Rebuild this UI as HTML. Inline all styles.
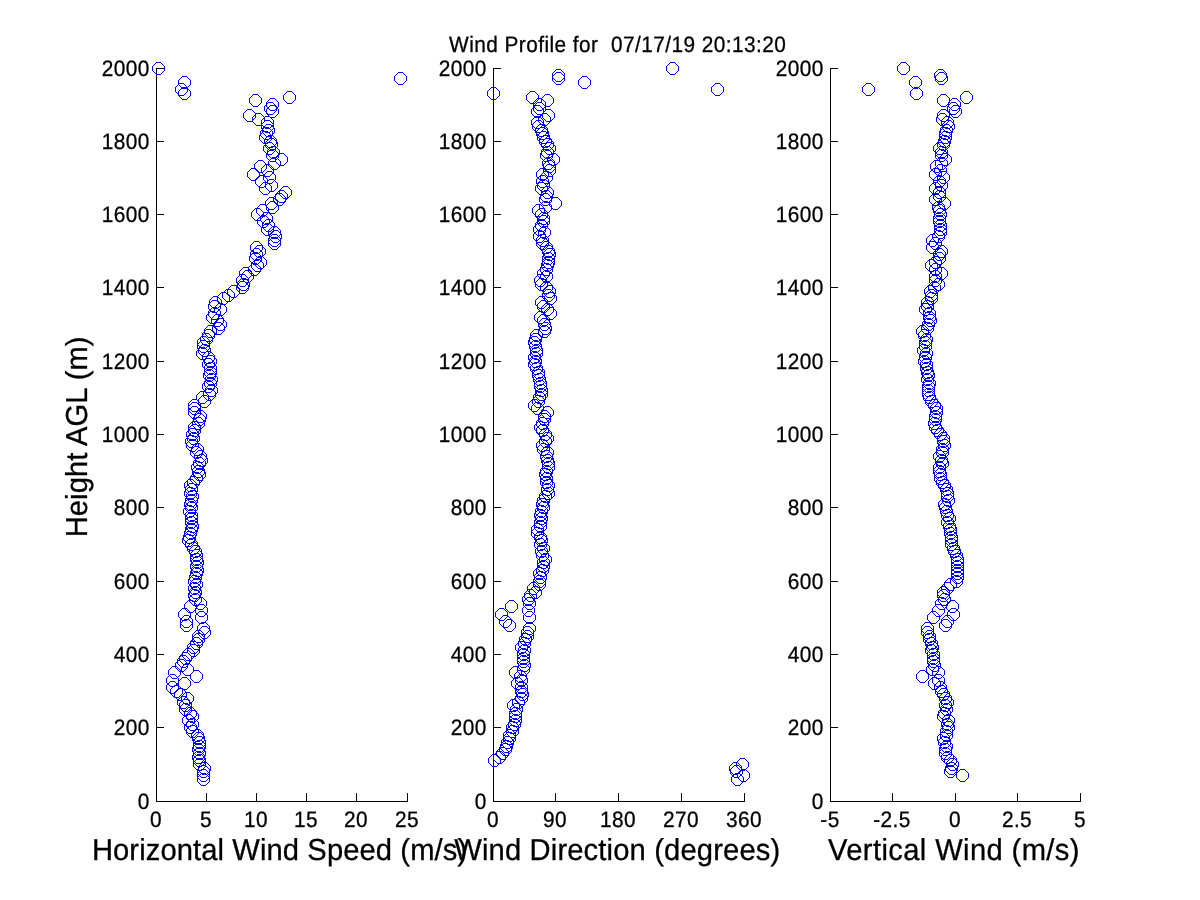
<!DOCTYPE html>
<html lang="en"><head><meta charset="utf-8"><title>Wind Profile</title>
<style>
html,body{margin:0;padding:0;background:#fff;}
body{width:1200px;height:900px;overflow:hidden;}
svg{display:block;}
text{font-family:"Liberation Sans",Arial,Helvetica,sans-serif;fill:#000;stroke:#000;stroke-width:0.30px;text-rendering:geometricPrecision;white-space:pre;}
.t{font-size:22.30px;letter-spacing:0.45px;}
.l{font-size:30.30px;letter-spacing:0.00px;}
</style></head>
<body>
<svg width="1200" height="900" viewBox="0 0 1200 900" role="img" aria-label="Wind Profile">
<rect width="1200" height="900" fill="#fff"/>
<defs><path id="m" d="M4 0h5v1h-5zM4 12h5v1h-5zM0 4h1v5h-1zM12 4h1v5h-1zM3 1h1v1h-1zM2 2h1v1h-1zM1 3h1v1h-1zM9 1h1v1h-1zM10 2h1v1h-1zM11 3h1v1h-1zM1 9h1v1h-1zM2 10h1v1h-1zM3 11h1v1h-1zM11 9h1v1h-1zM10 10h1v1h-1zM9 11h1v1h-1z" fill="#00f" shape-rendering="crispEdges"/></defs>
<g shape-rendering="crispEdges" fill="#000">
<rect x="156" y="68" width="1" height="734"/><rect x="156" y="801" width="252" height="1"/>
<rect x="156" y="801" width="8" height="1"/><rect x="156" y="727" width="8" height="1"/><rect x="156" y="654" width="8" height="1"/><rect x="156" y="581" width="8" height="1"/><rect x="156" y="507" width="8" height="1"/><rect x="156" y="434" width="8" height="1"/><rect x="156" y="361" width="8" height="1"/><rect x="156" y="287" width="8" height="1"/><rect x="156" y="214" width="8" height="1"/><rect x="156" y="141" width="8" height="1"/><rect x="156" y="68" width="8" height="1"/>
<rect x="156" y="793" width="1" height="9"/><rect x="206" y="793" width="1" height="9"/><rect x="256" y="793" width="1" height="9"/><rect x="306" y="793" width="1" height="9"/><rect x="356" y="793" width="1" height="9"/><rect x="407" y="793" width="1" height="9"/>
</g>
<g>
<text class="t" text-anchor="end" transform="translate(149.30 809.00) scale(0.9340 1)" x="0.450" y="0" xml:space="preserve">0</text><text class="t" text-anchor="end" transform="translate(149.30 735.00) scale(0.9340 1)" x="0.450" y="0" xml:space="preserve">200</text><text class="t" text-anchor="end" transform="translate(149.30 662.00) scale(0.9340 1)" x="0.450" y="0" xml:space="preserve">400</text><text class="t" text-anchor="end" transform="translate(149.30 589.00) scale(0.9340 1)" x="0.450" y="0" xml:space="preserve">600</text><text class="t" text-anchor="end" transform="translate(149.30 515.00) scale(0.9340 1)" x="0.450" y="0" xml:space="preserve">800</text><text class="t" text-anchor="end" transform="translate(149.30 442.00) scale(0.9340 1)" x="0.450" y="0" xml:space="preserve">1000</text><text class="t" text-anchor="end" transform="translate(149.30 369.00) scale(0.9340 1)" x="0.450" y="0" xml:space="preserve">1200</text><text class="t" text-anchor="end" transform="translate(149.30 295.00) scale(0.9340 1)" x="0.450" y="0" xml:space="preserve">1400</text><text class="t" text-anchor="end" transform="translate(149.30 222.00) scale(0.9340 1)" x="0.450" y="0" xml:space="preserve">1600</text><text class="t" text-anchor="end" transform="translate(149.30 149.00) scale(0.9340 1)" x="0.450" y="0" xml:space="preserve">1800</text><text class="t" text-anchor="end" transform="translate(149.30 76.00) scale(0.9340 1)" x="0.450" y="0" xml:space="preserve">2000</text>
</g>
<g>
<text class="t" text-anchor="middle" transform="translate(155.80 827.00) scale(0.9340 1)" x="0.225" y="0" xml:space="preserve">0</text><text class="t" text-anchor="middle" transform="translate(205.80 827.00) scale(0.9340 1)" x="0.225" y="0" xml:space="preserve">5</text><text class="t" text-anchor="middle" transform="translate(255.80 827.00) scale(0.9340 1)" x="0.225" y="0" xml:space="preserve">10</text><text class="t" text-anchor="middle" transform="translate(305.80 827.00) scale(0.9340 1)" x="0.225" y="0" xml:space="preserve">15</text><text class="t" text-anchor="middle" transform="translate(355.80 827.00) scale(0.9340 1)" x="0.225" y="0" xml:space="preserve">20</text><text class="t" text-anchor="middle" transform="translate(406.80 827.00) scale(0.9340 1)" x="0.225" y="0" xml:space="preserve">25</text>
</g>
<text class="l" text-anchor="middle" transform="translate(279.50 860.00) scale(0.9627 1)" x="0.048" y="0" xml:space="preserve" style="letter-spacing:0.096px">Horizontal Wind Speed (m/s)</text>
<g>
<use href="#m" x="152" y="62"/><use href="#m" x="394" y="72"/><use href="#m" x="178" y="76"/><use href="#m" x="175" y="83"/><use href="#m" x="178" y="87"/><use href="#m" x="283" y="91"/><use href="#m" x="249" y="94"/><use href="#m" x="266" y="98"/><use href="#m" x="264" y="102"/><use href="#m" x="266" y="105"/><use href="#m" x="243" y="109"/><use href="#m" x="252" y="113"/><use href="#m" x="261" y="116"/><use href="#m" x="261" y="120"/><use href="#m" x="262" y="124"/><use href="#m" x="260" y="127"/><use href="#m" x="259" y="131"/><use href="#m" x="264" y="135"/><use href="#m" x="265" y="138"/><use href="#m" x="263" y="142"/><use href="#m" x="267" y="146"/><use href="#m" x="266" y="149"/><use href="#m" x="275" y="153"/><use href="#m" x="268" y="157"/><use href="#m" x="254" y="160"/><use href="#m" x="261" y="164"/><use href="#m" x="247" y="168"/><use href="#m" x="263" y="171"/><use href="#m" x="255" y="175"/><use href="#m" x="265" y="179"/><use href="#m" x="259" y="182"/><use href="#m" x="279" y="186"/><use href="#m" x="275" y="190"/><use href="#m" x="273" y="193"/><use href="#m" x="265" y="197"/><use href="#m" x="266" y="201"/><use href="#m" x="256" y="204"/><use href="#m" x="251" y="208"/><use href="#m" x="260" y="212"/><use href="#m" x="257" y="215"/><use href="#m" x="262" y="219"/><use href="#m" x="261" y="223"/><use href="#m" x="268" y="226"/><use href="#m" x="269" y="230"/><use href="#m" x="268" y="234"/><use href="#m" x="268" y="237"/><use href="#m" x="250" y="241"/><use href="#m" x="253" y="245"/><use href="#m" x="250" y="248"/><use href="#m" x="249" y="252"/><use href="#m" x="254" y="256"/><use href="#m" x="251" y="259"/><use href="#m" x="248" y="263"/><use href="#m" x="239" y="267"/><use href="#m" x="241" y="270"/><use href="#m" x="236" y="274"/><use href="#m" x="237" y="278"/><use href="#m" x="236" y="281"/><use href="#m" x="227" y="285"/><use href="#m" x="222" y="289"/><use href="#m" x="217" y="292"/><use href="#m" x="209" y="296"/><use href="#m" x="208" y="300"/><use href="#m" x="214" y="303"/><use href="#m" x="208" y="307"/><use href="#m" x="206" y="311"/><use href="#m" x="211" y="314"/><use href="#m" x="214" y="318"/><use href="#m" x="212" y="322"/><use href="#m" x="204" y="325"/><use href="#m" x="202" y="329"/><use href="#m" x="200" y="333"/><use href="#m" x="197" y="336"/><use href="#m" x="197" y="340"/><use href="#m" x="198" y="344"/><use href="#m" x="196" y="347"/><use href="#m" x="202" y="351"/><use href="#m" x="204" y="355"/><use href="#m" x="202" y="358"/><use href="#m" x="204" y="362"/><use href="#m" x="204" y="366"/><use href="#m" x="203" y="369"/><use href="#m" x="205" y="373"/><use href="#m" x="204" y="377"/><use href="#m" x="202" y="380"/><use href="#m" x="205" y="384"/><use href="#m" x="203" y="388"/><use href="#m" x="196" y="391"/><use href="#m" x="198" y="395"/><use href="#m" x="188" y="399"/><use href="#m" x="188" y="402"/><use href="#m" x="188" y="406"/><use href="#m" x="194" y="410"/><use href="#m" x="193" y="413"/><use href="#m" x="192" y="417"/><use href="#m" x="188" y="421"/><use href="#m" x="188" y="424"/><use href="#m" x="186" y="428"/><use href="#m" x="187" y="432"/><use href="#m" x="185" y="435"/><use href="#m" x="186" y="439"/><use href="#m" x="191" y="443"/><use href="#m" x="190" y="446"/><use href="#m" x="194" y="450"/><use href="#m" x="195" y="454"/><use href="#m" x="193" y="457"/><use href="#m" x="191" y="461"/><use href="#m" x="192" y="465"/><use href="#m" x="193" y="468"/><use href="#m" x="190" y="472"/><use href="#m" x="187" y="476"/><use href="#m" x="184" y="479"/><use href="#m" x="185" y="483"/><use href="#m" x="184" y="487"/><use href="#m" x="186" y="490"/><use href="#m" x="185" y="494"/><use href="#m" x="184" y="498"/><use href="#m" x="185" y="501"/><use href="#m" x="183" y="505"/><use href="#m" x="185" y="509"/><use href="#m" x="185" y="512"/><use href="#m" x="185" y="516"/><use href="#m" x="186" y="520"/><use href="#m" x="185" y="523"/><use href="#m" x="184" y="527"/><use href="#m" x="183" y="531"/><use href="#m" x="182" y="534"/><use href="#m" x="185" y="538"/><use href="#m" x="187" y="542"/><use href="#m" x="189" y="545"/><use href="#m" x="190" y="549"/><use href="#m" x="190" y="553"/><use href="#m" x="191" y="556"/><use href="#m" x="190" y="560"/><use href="#m" x="191" y="564"/><use href="#m" x="190" y="567"/><use href="#m" x="189" y="571"/><use href="#m" x="188" y="575"/><use href="#m" x="190" y="578"/><use href="#m" x="188" y="582"/><use href="#m" x="189" y="586"/><use href="#m" x="188" y="589"/><use href="#m" x="189" y="593"/><use href="#m" x="194" y="597"/><use href="#m" x="184" y="600"/><use href="#m" x="195" y="604"/><use href="#m" x="178" y="608"/><use href="#m" x="195" y="611"/><use href="#m" x="180" y="615"/><use href="#m" x="180" y="619"/><use href="#m" x="197" y="622"/><use href="#m" x="198" y="626"/><use href="#m" x="192" y="630"/><use href="#m" x="192" y="633"/><use href="#m" x="190" y="637"/><use href="#m" x="187" y="641"/><use href="#m" x="187" y="644"/><use href="#m" x="182" y="648"/><use href="#m" x="179" y="652"/><use href="#m" x="177" y="655"/><use href="#m" x="175" y="659"/><use href="#m" x="181" y="663"/><use href="#m" x="168" y="666"/><use href="#m" x="190" y="670"/><use href="#m" x="166" y="674"/><use href="#m" x="178" y="677"/><use href="#m" x="166" y="681"/><use href="#m" x="170" y="685"/><use href="#m" x="174" y="688"/><use href="#m" x="181" y="692"/><use href="#m" x="177" y="696"/><use href="#m" x="179" y="699"/><use href="#m" x="179" y="703"/><use href="#m" x="184" y="707"/><use href="#m" x="186" y="710"/><use href="#m" x="182" y="714"/><use href="#m" x="186" y="718"/><use href="#m" x="184" y="721"/><use href="#m" x="186" y="725"/><use href="#m" x="191" y="729"/><use href="#m" x="192" y="732"/><use href="#m" x="193" y="736"/><use href="#m" x="193" y="740"/><use href="#m" x="192" y="743"/><use href="#m" x="193" y="747"/><use href="#m" x="192" y="751"/><use href="#m" x="193" y="754"/><use href="#m" x="193" y="758"/><use href="#m" x="198" y="762"/><use href="#m" x="197" y="765"/><use href="#m" x="197" y="769"/><use href="#m" x="197" y="773"/>
</g>
<g shape-rendering="crispEdges" fill="#000">
<rect x="493" y="68" width="1" height="734"/><rect x="493" y="801" width="252" height="1"/>
<rect x="493" y="801" width="8" height="1"/><rect x="493" y="727" width="8" height="1"/><rect x="493" y="654" width="8" height="1"/><rect x="493" y="581" width="8" height="1"/><rect x="493" y="507" width="8" height="1"/><rect x="493" y="434" width="8" height="1"/><rect x="493" y="361" width="8" height="1"/><rect x="493" y="287" width="8" height="1"/><rect x="493" y="214" width="8" height="1"/><rect x="493" y="141" width="8" height="1"/><rect x="493" y="68" width="8" height="1"/>
<rect x="493" y="793" width="1" height="9"/><rect x="555" y="793" width="1" height="9"/><rect x="618" y="793" width="1" height="9"/><rect x="681" y="793" width="1" height="9"/><rect x="744" y="793" width="1" height="9"/>
</g>
<g>
<text class="t" text-anchor="end" transform="translate(486.30 809.00) scale(0.9340 1)" x="0.450" y="0" xml:space="preserve">0</text><text class="t" text-anchor="end" transform="translate(486.30 735.00) scale(0.9340 1)" x="0.450" y="0" xml:space="preserve">200</text><text class="t" text-anchor="end" transform="translate(486.30 662.00) scale(0.9340 1)" x="0.450" y="0" xml:space="preserve">400</text><text class="t" text-anchor="end" transform="translate(486.30 589.00) scale(0.9340 1)" x="0.450" y="0" xml:space="preserve">600</text><text class="t" text-anchor="end" transform="translate(486.30 515.00) scale(0.9340 1)" x="0.450" y="0" xml:space="preserve">800</text><text class="t" text-anchor="end" transform="translate(486.30 442.00) scale(0.9340 1)" x="0.450" y="0" xml:space="preserve">1000</text><text class="t" text-anchor="end" transform="translate(486.30 369.00) scale(0.9340 1)" x="0.450" y="0" xml:space="preserve">1200</text><text class="t" text-anchor="end" transform="translate(486.30 295.00) scale(0.9340 1)" x="0.450" y="0" xml:space="preserve">1400</text><text class="t" text-anchor="end" transform="translate(486.30 222.00) scale(0.9340 1)" x="0.450" y="0" xml:space="preserve">1600</text><text class="t" text-anchor="end" transform="translate(486.30 149.00) scale(0.9340 1)" x="0.450" y="0" xml:space="preserve">1800</text><text class="t" text-anchor="end" transform="translate(486.30 76.00) scale(0.9340 1)" x="0.450" y="0" xml:space="preserve">2000</text>
</g>
<g>
<text class="t" text-anchor="middle" transform="translate(492.80 827.00) scale(0.9340 1)" x="0.225" y="0" xml:space="preserve">0</text><text class="t" text-anchor="middle" transform="translate(554.80 827.00) scale(0.9340 1)" x="0.225" y="0" xml:space="preserve">90</text><text class="t" text-anchor="middle" transform="translate(617.80 827.00) scale(0.9340 1)" x="0.225" y="0" xml:space="preserve">180</text><text class="t" text-anchor="middle" transform="translate(680.80 827.00) scale(0.9340 1)" x="0.225" y="0" xml:space="preserve">270</text><text class="t" text-anchor="middle" transform="translate(743.80 827.00) scale(0.9340 1)" x="0.225" y="0" xml:space="preserve">360</text>
</g>
<text class="l" text-anchor="middle" transform="translate(617.25 860.00) scale(0.9627 1)" x="0.077" y="0" xml:space="preserve" style="letter-spacing:0.154px">Wind Direction (degrees)</text>
<g>
<use href="#m" x="666" y="62"/><use href="#m" x="552" y="69"/><use href="#m" x="552" y="72"/><use href="#m" x="578" y="76"/><use href="#m" x="711" y="83"/><use href="#m" x="487" y="87"/><use href="#m" x="526" y="91"/><use href="#m" x="541" y="94"/><use href="#m" x="533" y="98"/><use href="#m" x="533" y="102"/><use href="#m" x="531" y="105"/><use href="#m" x="542" y="109"/><use href="#m" x="538" y="113"/><use href="#m" x="531" y="116"/><use href="#m" x="532" y="120"/><use href="#m" x="535" y="124"/><use href="#m" x="536" y="127"/><use href="#m" x="537" y="131"/><use href="#m" x="539" y="135"/><use href="#m" x="541" y="138"/><use href="#m" x="543" y="142"/><use href="#m" x="541" y="146"/><use href="#m" x="540" y="149"/><use href="#m" x="547" y="153"/><use href="#m" x="542" y="157"/><use href="#m" x="543" y="160"/><use href="#m" x="543" y="164"/><use href="#m" x="536" y="168"/><use href="#m" x="540" y="171"/><use href="#m" x="536" y="175"/><use href="#m" x="537" y="179"/><use href="#m" x="535" y="182"/><use href="#m" x="541" y="186"/><use href="#m" x="540" y="190"/><use href="#m" x="539" y="193"/><use href="#m" x="549" y="197"/><use href="#m" x="539" y="201"/><use href="#m" x="532" y="204"/><use href="#m" x="535" y="208"/><use href="#m" x="537" y="212"/><use href="#m" x="537" y="215"/><use href="#m" x="535" y="219"/><use href="#m" x="533" y="223"/><use href="#m" x="538" y="226"/><use href="#m" x="533" y="230"/><use href="#m" x="536" y="234"/><use href="#m" x="536" y="237"/><use href="#m" x="540" y="241"/><use href="#m" x="542" y="245"/><use href="#m" x="543" y="248"/><use href="#m" x="542" y="252"/><use href="#m" x="542" y="256"/><use href="#m" x="541" y="259"/><use href="#m" x="540" y="263"/><use href="#m" x="537" y="267"/><use href="#m" x="540" y="270"/><use href="#m" x="534" y="274"/><use href="#m" x="535" y="278"/><use href="#m" x="540" y="281"/><use href="#m" x="543" y="285"/><use href="#m" x="542" y="289"/><use href="#m" x="544" y="292"/><use href="#m" x="535" y="296"/><use href="#m" x="537" y="300"/><use href="#m" x="541" y="303"/><use href="#m" x="544" y="307"/><use href="#m" x="534" y="311"/><use href="#m" x="537" y="314"/><use href="#m" x="538" y="318"/><use href="#m" x="539" y="322"/><use href="#m" x="538" y="325"/><use href="#m" x="530" y="329"/><use href="#m" x="529" y="333"/><use href="#m" x="528" y="336"/><use href="#m" x="529" y="340"/><use href="#m" x="530" y="344"/><use href="#m" x="530" y="347"/><use href="#m" x="528" y="351"/><use href="#m" x="529" y="355"/><use href="#m" x="528" y="358"/><use href="#m" x="530" y="362"/><use href="#m" x="532" y="366"/><use href="#m" x="532" y="369"/><use href="#m" x="533" y="373"/><use href="#m" x="534" y="377"/><use href="#m" x="534" y="380"/><use href="#m" x="535" y="384"/><use href="#m" x="535" y="388"/><use href="#m" x="533" y="391"/><use href="#m" x="532" y="395"/><use href="#m" x="528" y="399"/><use href="#m" x="531" y="402"/><use href="#m" x="541" y="406"/><use href="#m" x="538" y="410"/><use href="#m" x="538" y="413"/><use href="#m" x="536" y="417"/><use href="#m" x="534" y="421"/><use href="#m" x="536" y="424"/><use href="#m" x="539" y="428"/><use href="#m" x="541" y="432"/><use href="#m" x="539" y="435"/><use href="#m" x="536" y="439"/><use href="#m" x="537" y="443"/><use href="#m" x="541" y="446"/><use href="#m" x="540" y="450"/><use href="#m" x="541" y="454"/><use href="#m" x="542" y="457"/><use href="#m" x="542" y="461"/><use href="#m" x="540" y="465"/><use href="#m" x="539" y="468"/><use href="#m" x="540" y="472"/><use href="#m" x="540" y="476"/><use href="#m" x="542" y="479"/><use href="#m" x="541" y="483"/><use href="#m" x="542" y="487"/><use href="#m" x="539" y="490"/><use href="#m" x="537" y="494"/><use href="#m" x="536" y="498"/><use href="#m" x="537" y="501"/><use href="#m" x="535" y="505"/><use href="#m" x="534" y="509"/><use href="#m" x="535" y="512"/><use href="#m" x="534" y="516"/><use href="#m" x="534" y="520"/><use href="#m" x="531" y="523"/><use href="#m" x="531" y="527"/><use href="#m" x="534" y="531"/><use href="#m" x="535" y="534"/><use href="#m" x="534" y="538"/><use href="#m" x="537" y="542"/><use href="#m" x="535" y="545"/><use href="#m" x="536" y="549"/><use href="#m" x="539" y="553"/><use href="#m" x="537" y="556"/><use href="#m" x="537" y="560"/><use href="#m" x="536" y="564"/><use href="#m" x="533" y="567"/><use href="#m" x="534" y="571"/><use href="#m" x="533" y="575"/><use href="#m" x="533" y="578"/><use href="#m" x="527" y="582"/><use href="#m" x="529" y="586"/><use href="#m" x="524" y="589"/><use href="#m" x="522" y="593"/><use href="#m" x="523" y="597"/><use href="#m" x="505" y="600"/><use href="#m" x="522" y="604"/><use href="#m" x="495" y="608"/><use href="#m" x="523" y="611"/><use href="#m" x="499" y="615"/><use href="#m" x="503" y="619"/><use href="#m" x="523" y="622"/><use href="#m" x="521" y="626"/><use href="#m" x="521" y="630"/><use href="#m" x="519" y="633"/><use href="#m" x="518" y="637"/><use href="#m" x="515" y="641"/><use href="#m" x="518" y="644"/><use href="#m" x="517" y="648"/><use href="#m" x="517" y="652"/><use href="#m" x="517" y="655"/><use href="#m" x="518" y="659"/><use href="#m" x="517" y="663"/><use href="#m" x="509" y="666"/><use href="#m" x="514" y="670"/><use href="#m" x="515" y="674"/><use href="#m" x="511" y="677"/><use href="#m" x="515" y="681"/><use href="#m" x="515" y="685"/><use href="#m" x="516" y="688"/><use href="#m" x="515" y="692"/><use href="#m" x="512" y="696"/><use href="#m" x="507" y="699"/><use href="#m" x="510" y="703"/><use href="#m" x="509" y="707"/><use href="#m" x="509" y="710"/><use href="#m" x="509" y="714"/><use href="#m" x="508" y="718"/><use href="#m" x="506" y="721"/><use href="#m" x="506" y="725"/><use href="#m" x="503" y="729"/><use href="#m" x="503" y="732"/><use href="#m" x="501" y="736"/><use href="#m" x="500" y="740"/><use href="#m" x="499" y="743"/><use href="#m" x="496" y="747"/><use href="#m" x="493" y="751"/><use href="#m" x="488" y="754"/><use href="#m" x="736" y="758"/><use href="#m" x="729" y="762"/><use href="#m" x="730" y="765"/><use href="#m" x="737" y="769"/><use href="#m" x="731" y="773"/>
</g>
<g shape-rendering="crispEdges" fill="#000">
<rect x="830" y="68" width="1" height="734"/><rect x="830" y="801" width="251" height="1"/>
<rect x="830" y="801" width="8" height="1"/><rect x="830" y="727" width="8" height="1"/><rect x="830" y="654" width="8" height="1"/><rect x="830" y="581" width="8" height="1"/><rect x="830" y="507" width="8" height="1"/><rect x="830" y="434" width="8" height="1"/><rect x="830" y="361" width="8" height="1"/><rect x="830" y="287" width="8" height="1"/><rect x="830" y="214" width="8" height="1"/><rect x="830" y="141" width="8" height="1"/><rect x="830" y="68" width="8" height="1"/>
<rect x="830" y="793" width="1" height="9"/><rect x="892" y="793" width="1" height="9"/><rect x="955" y="793" width="1" height="9"/><rect x="1017" y="793" width="1" height="9"/><rect x="1080" y="793" width="1" height="9"/>
</g>
<g>
<text class="t" text-anchor="end" transform="translate(823.30 809.00) scale(0.9340 1)" x="0.450" y="0" xml:space="preserve">0</text><text class="t" text-anchor="end" transform="translate(823.30 735.00) scale(0.9340 1)" x="0.450" y="0" xml:space="preserve">200</text><text class="t" text-anchor="end" transform="translate(823.30 662.00) scale(0.9340 1)" x="0.450" y="0" xml:space="preserve">400</text><text class="t" text-anchor="end" transform="translate(823.30 589.00) scale(0.9340 1)" x="0.450" y="0" xml:space="preserve">600</text><text class="t" text-anchor="end" transform="translate(823.30 515.00) scale(0.9340 1)" x="0.450" y="0" xml:space="preserve">800</text><text class="t" text-anchor="end" transform="translate(823.30 442.00) scale(0.9340 1)" x="0.450" y="0" xml:space="preserve">1000</text><text class="t" text-anchor="end" transform="translate(823.30 369.00) scale(0.9340 1)" x="0.450" y="0" xml:space="preserve">1200</text><text class="t" text-anchor="end" transform="translate(823.30 295.00) scale(0.9340 1)" x="0.450" y="0" xml:space="preserve">1400</text><text class="t" text-anchor="end" transform="translate(823.30 222.00) scale(0.9340 1)" x="0.450" y="0" xml:space="preserve">1600</text><text class="t" text-anchor="end" transform="translate(823.30 149.00) scale(0.9340 1)" x="0.450" y="0" xml:space="preserve">1800</text><text class="t" text-anchor="end" transform="translate(823.30 76.00) scale(0.9340 1)" x="0.450" y="0" xml:space="preserve">2000</text>
</g>
<g>
<text class="t" text-anchor="middle" transform="translate(829.80 827.00) scale(0.9340 1)" x="0.225" y="0" xml:space="preserve">-5</text><text class="t" text-anchor="middle" transform="translate(891.80 827.00) scale(0.9340 1)" x="0.225" y="0" xml:space="preserve">-2.5</text><text class="t" text-anchor="middle" transform="translate(954.80 827.00) scale(0.9340 1)" x="0.225" y="0" xml:space="preserve">0</text><text class="t" text-anchor="middle" transform="translate(1016.80 827.00) scale(0.9340 1)" x="0.225" y="0" xml:space="preserve">2.5</text><text class="t" text-anchor="middle" transform="translate(1079.80 827.00) scale(0.9340 1)" x="0.225" y="0" xml:space="preserve">5</text>
</g>
<text class="l" text-anchor="middle" transform="translate(953.75 860.00) scale(0.9627 1)" x="0.196" y="0" xml:space="preserve" style="letter-spacing:0.392px">Vertical Wind (m/s)</text>
<g>
<use href="#m" x="897" y="62"/><use href="#m" x="934" y="69"/><use href="#m" x="935" y="72"/><use href="#m" x="909" y="76"/><use href="#m" x="862" y="83"/><use href="#m" x="910" y="87"/><use href="#m" x="960" y="91"/><use href="#m" x="937" y="94"/><use href="#m" x="948" y="98"/><use href="#m" x="947" y="102"/><use href="#m" x="949" y="105"/><use href="#m" x="937" y="109"/><use href="#m" x="936" y="113"/><use href="#m" x="941" y="116"/><use href="#m" x="942" y="120"/><use href="#m" x="940" y="124"/><use href="#m" x="939" y="127"/><use href="#m" x="939" y="131"/><use href="#m" x="938" y="135"/><use href="#m" x="937" y="138"/><use href="#m" x="933" y="142"/><use href="#m" x="935" y="146"/><use href="#m" x="935" y="149"/><use href="#m" x="939" y="153"/><use href="#m" x="935" y="157"/><use href="#m" x="930" y="160"/><use href="#m" x="934" y="164"/><use href="#m" x="929" y="168"/><use href="#m" x="937" y="171"/><use href="#m" x="933" y="175"/><use href="#m" x="935" y="179"/><use href="#m" x="929" y="182"/><use href="#m" x="933" y="186"/><use href="#m" x="933" y="190"/><use href="#m" x="929" y="193"/><use href="#m" x="938" y="197"/><use href="#m" x="932" y="201"/><use href="#m" x="933" y="204"/><use href="#m" x="934" y="208"/><use href="#m" x="933" y="212"/><use href="#m" x="933" y="215"/><use href="#m" x="934" y="219"/><use href="#m" x="934" y="223"/><use href="#m" x="934" y="226"/><use href="#m" x="932" y="230"/><use href="#m" x="926" y="234"/><use href="#m" x="929" y="237"/><use href="#m" x="926" y="241"/><use href="#m" x="935" y="245"/><use href="#m" x="933" y="248"/><use href="#m" x="933" y="252"/><use href="#m" x="929" y="256"/><use href="#m" x="925" y="259"/><use href="#m" x="929" y="263"/><use href="#m" x="935" y="267"/><use href="#m" x="929" y="270"/><use href="#m" x="929" y="274"/><use href="#m" x="932" y="278"/><use href="#m" x="928" y="281"/><use href="#m" x="924" y="285"/><use href="#m" x="925" y="289"/><use href="#m" x="925" y="292"/><use href="#m" x="921" y="296"/><use href="#m" x="921" y="300"/><use href="#m" x="919" y="303"/><use href="#m" x="923" y="307"/><use href="#m" x="923" y="311"/><use href="#m" x="924" y="314"/><use href="#m" x="922" y="318"/><use href="#m" x="921" y="322"/><use href="#m" x="916" y="325"/><use href="#m" x="918" y="329"/><use href="#m" x="920" y="333"/><use href="#m" x="919" y="336"/><use href="#m" x="919" y="340"/><use href="#m" x="917" y="344"/><use href="#m" x="920" y="347"/><use href="#m" x="919" y="351"/><use href="#m" x="918" y="355"/><use href="#m" x="920" y="358"/><use href="#m" x="920" y="362"/><use href="#m" x="921" y="366"/><use href="#m" x="922" y="369"/><use href="#m" x="921" y="373"/><use href="#m" x="923" y="377"/><use href="#m" x="922" y="380"/><use href="#m" x="922" y="384"/><use href="#m" x="922" y="388"/><use href="#m" x="923" y="391"/><use href="#m" x="925" y="395"/><use href="#m" x="928" y="399"/><use href="#m" x="930" y="402"/><use href="#m" x="930" y="406"/><use href="#m" x="929" y="410"/><use href="#m" x="929" y="413"/><use href="#m" x="928" y="417"/><use href="#m" x="929" y="421"/><use href="#m" x="931" y="424"/><use href="#m" x="934" y="428"/><use href="#m" x="937" y="432"/><use href="#m" x="937" y="435"/><use href="#m" x="938" y="439"/><use href="#m" x="936" y="443"/><use href="#m" x="936" y="446"/><use href="#m" x="933" y="450"/><use href="#m" x="935" y="454"/><use href="#m" x="936" y="457"/><use href="#m" x="933" y="461"/><use href="#m" x="933" y="465"/><use href="#m" x="934" y="468"/><use href="#m" x="934" y="472"/><use href="#m" x="936" y="476"/><use href="#m" x="938" y="479"/><use href="#m" x="940" y="483"/><use href="#m" x="941" y="487"/><use href="#m" x="941" y="490"/><use href="#m" x="942" y="494"/><use href="#m" x="938" y="498"/><use href="#m" x="939" y="501"/><use href="#m" x="940" y="505"/><use href="#m" x="941" y="509"/><use href="#m" x="943" y="512"/><use href="#m" x="941" y="516"/><use href="#m" x="943" y="520"/><use href="#m" x="944" y="523"/><use href="#m" x="944" y="527"/><use href="#m" x="945" y="531"/><use href="#m" x="945" y="534"/><use href="#m" x="945" y="538"/><use href="#m" x="947" y="542"/><use href="#m" x="948" y="545"/><use href="#m" x="950" y="549"/><use href="#m" x="951" y="553"/><use href="#m" x="951" y="556"/><use href="#m" x="951" y="560"/><use href="#m" x="951" y="564"/><use href="#m" x="951" y="567"/><use href="#m" x="951" y="571"/><use href="#m" x="950" y="575"/><use href="#m" x="944" y="578"/><use href="#m" x="941" y="582"/><use href="#m" x="937" y="586"/><use href="#m" x="937" y="589"/><use href="#m" x="938" y="593"/><use href="#m" x="935" y="597"/><use href="#m" x="946" y="600"/><use href="#m" x="932" y="604"/><use href="#m" x="947" y="608"/><use href="#m" x="927" y="611"/><use href="#m" x="941" y="615"/><use href="#m" x="939" y="619"/><use href="#m" x="921" y="622"/><use href="#m" x="921" y="626"/><use href="#m" x="923" y="630"/><use href="#m" x="923" y="633"/><use href="#m" x="925" y="637"/><use href="#m" x="926" y="641"/><use href="#m" x="925" y="644"/><use href="#m" x="927" y="648"/><use href="#m" x="927" y="652"/><use href="#m" x="927" y="655"/><use href="#m" x="928" y="659"/><use href="#m" x="926" y="663"/><use href="#m" x="932" y="666"/><use href="#m" x="916" y="670"/><use href="#m" x="932" y="674"/><use href="#m" x="928" y="677"/><use href="#m" x="934" y="681"/><use href="#m" x="935" y="685"/><use href="#m" x="937" y="688"/><use href="#m" x="939" y="692"/><use href="#m" x="941" y="696"/><use href="#m" x="939" y="699"/><use href="#m" x="940" y="703"/><use href="#m" x="938" y="707"/><use href="#m" x="937" y="710"/><use href="#m" x="942" y="714"/><use href="#m" x="941" y="718"/><use href="#m" x="942" y="721"/><use href="#m" x="940" y="725"/><use href="#m" x="940" y="729"/><use href="#m" x="937" y="732"/><use href="#m" x="938" y="736"/><use href="#m" x="940" y="740"/><use href="#m" x="939" y="743"/><use href="#m" x="939" y="747"/><use href="#m" x="941" y="751"/><use href="#m" x="944" y="754"/><use href="#m" x="946" y="758"/><use href="#m" x="945" y="762"/><use href="#m" x="944" y="765"/><use href="#m" x="956" y="769"/>
</g>
<text class="l" text-anchor="middle" transform="translate(87.00 436.88) rotate(-90) scale(0.9627 1)" x="0.040" y="0" xml:space="preserve" style="letter-spacing:0.080px">Height AGL (m)</text>
<text class="t" text-anchor="middle" transform="translate(617.50 52.00) scale(0.9340 1)" x="0.236" y="0" xml:space="preserve" style="letter-spacing:0.472px">Wind Profile for  07/17/19 20:13:20</text>
</svg>
</body></html>
